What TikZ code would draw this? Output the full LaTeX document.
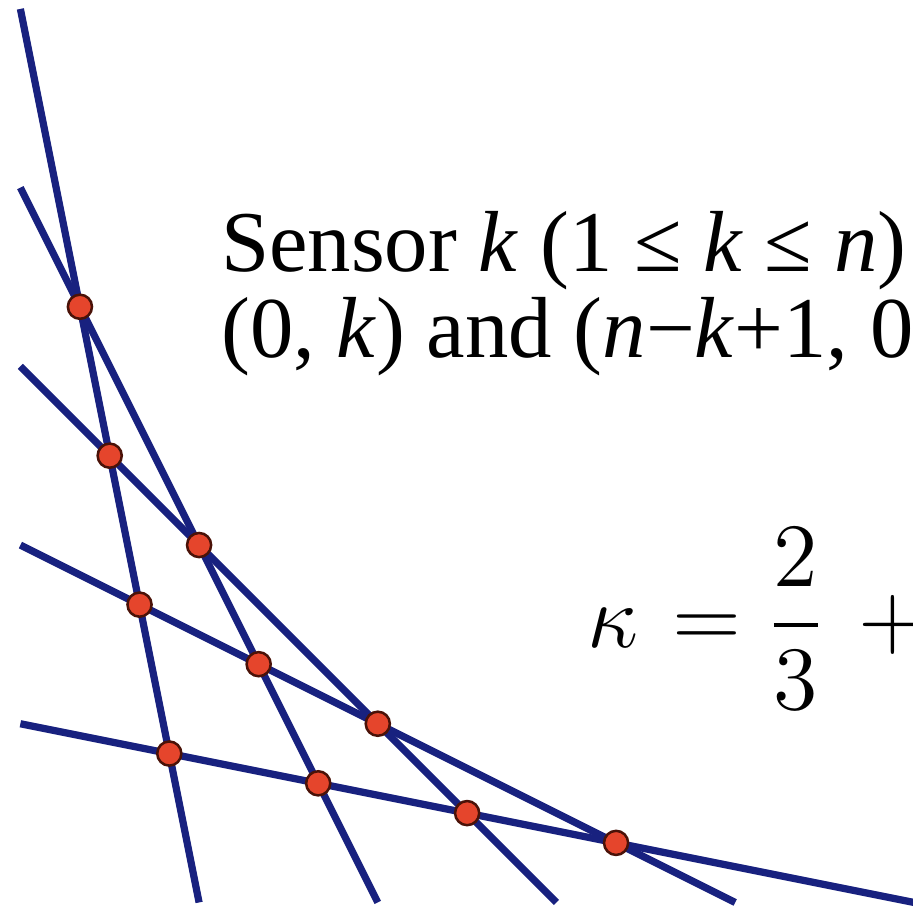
\documentclass[tikz,border=0pt]{standalone}
\usepackage{amsmath}
\usepackage{fontspec}
\setmainfont{Liberation Serif}
\usetikzlibrary{positioning,calc}
\definecolor{sensorline}{HTML}{18217F}
\definecolor{hit}{HTML}{E5452C}
\definecolor{hitrim}{HTML}{4A1208}

\begin{document}
\begin{tikzpicture}[
  sensor/.style={line width=1.15pt, color=sensorline},
  hitdot/.style={circle, fill=hit, draw=hitrim, line width=0.4pt, inner sep=0pt, minimum size=0.135cm},
  caption/.style={font=\fontsize{13.8}{13.8}\selectfont, inner sep=0pt, anchor=base west},
  formula/.style={font=\fontsize{15}{18}\selectfont, inner sep=0pt, anchor=base west},
]
\clip (-0.114,-0.041) rectangle (4.995,5.05);

% one line per sensor, from (0,k) to (n-k+1,0)
\foreach \k in {1,...,5} {
  \pgfmathtruncatemacro{\xend}{6-\k}
  \coordinate (top\k) at (0,\k);
  \coordinate (foot\k) at (\xend,0);
  \draw[sensor] (top\k) -- (foot\k);
}

% crossing points of sensors i and j
\foreach \i in {1,...,4} {
  \pgfmathtruncatemacro{\jfrom}{\i+1}
  \foreach \j in {\jfrom,...,5} {
    \pgfmathsetmacro{\ya}{((6-\j)-(6-\i))/((6-\j)/\j-(6-\i)/\i)}
    \pgfmathsetmacro{\xa}{(6-\i)*(1-\ya/\i)}
    \node[hitdot] (hit\i\j) at (\xa,\ya) {};
  }
}

\node[caption] (sensorA) at (1.117,3.529) {Sensor \textit{k} (1 ≤ \textit{k} ≤ \textit{n})};
\node[caption] (sensorB) at (1.117,3.047) {(0, \textit{k}) and (\textit{n}−\textit{k}+1, 0)};

\node[formula] (kappa) at (3.165,1.425) {$\displaystyle \kappa\mkern1.8mu = \frac{2}{3} \mkern2.6mu+ {}$};

\end{tikzpicture}
\end{document}
